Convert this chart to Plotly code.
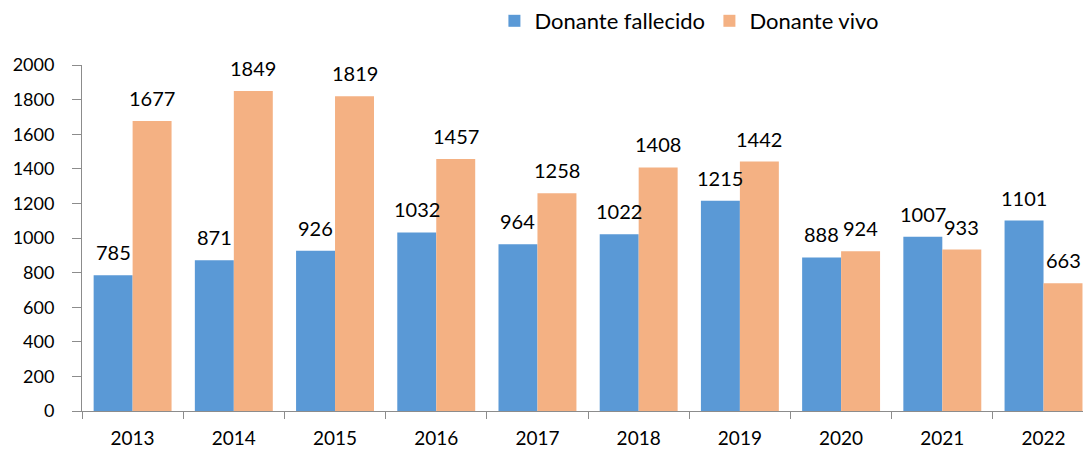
import plotly.graph_objects as go

years = ["2013", "2014", "2015", "2016", "2017", "2018", "2019", "2020", "2021", "2022"]
fallecido = [785, 871, 926, 1032, 964, 1022, 1215, 888, 1007, 1101]
vivo = [1677, 1849, 1819, 1457, 1258, 1408, 1442, 924, 933, 738]
fallecido_labels = ["785", "871", "926", "1032", "964", "1022", "1215", "888", "1007", "1101"]
vivo_labels = ["1677", "1849", "1819", "1457", "1258", "1408", "1442", "924", "933", "663"]
y_ticks = [0, 200, 400, 600, 800, 1000, 1200, 1400, 1600, 1800, 2000]

FONT = "Lato"
BLUE = "#5a99d6"
ORANGE = "#f4b183"
AXIS = "#8c8c8c"

fig = go.Figure()
fig.add_trace(go.Bar(x=years, y=fallecido, name="Donante fallecido",
                     marker=dict(color=BLUE, line=dict(width=0))))
fig.add_trace(go.Bar(x=years, y=vivo, name="Donante vivo",
                     marker=dict(color=ORANGE, line=dict(width=0))))

annotations = []
for i in range(len(years)):
    annotations.append(dict(x=i, y=fallecido[i], text=fallecido_labels[i], xref="x", yref="y",
                            showarrow=False, xshift=-19.5, yshift=23, yanchor="middle",
                            font=dict(family=FONT, size=20, color="#000000")))
    annotations.append(dict(x=i, y=vivo[i], text=vivo_labels[i], xref="x", yref="y",
                            showarrow=False, xshift=19.5, yshift=23, yanchor="middle",
                            font=dict(family=FONT, size=20, color="#000000")))

fig.update_layout(
    width=1086, height=452,
    margin=dict(l=82, r=3, t=65, b=41, autoexpand=False),
    paper_bgcolor="white", plot_bgcolor="white",
    barmode="group", bargap=0.23, bargroupgap=0,
    font=dict(family=FONT, size=18, color="#000000"),
    showlegend=True,
    legend=dict(orientation="h", x=0.412, y=1.0, xanchor="left", yanchor="top",
                yref="container", entrywidth=170, entrywidthmode="pixels",
                font=dict(family=FONT, size=22)),
    annotations=annotations,
    xaxis=dict(type="category", showline=True, linecolor=AXIS, linewidth=1, ticks="outside",
               tickson="boundaries", ticklen=7, tickcolor=AXIS, range=[-0.5, 9.39], showgrid=False,
               ticklabelstandoff=10, automargin=False, tickfont=dict(family=FONT, size=19)),
    yaxis=dict(range=[0, 2000], tickvals=y_ticks, showline=True, linecolor=AXIS, linewidth=1,
               ticks="outside", ticklen=9, tickcolor=AXIS, showgrid=False, zeroline=False,
               ticklabelstandoff=14, automargin=False, tickfont=dict(family=FONT, size=18)),
)

fig.write_html("out.html", config={"displayModeBar": False},
               post_script="document.body.style.margin='0';document.body.style.overflow='hidden';")
